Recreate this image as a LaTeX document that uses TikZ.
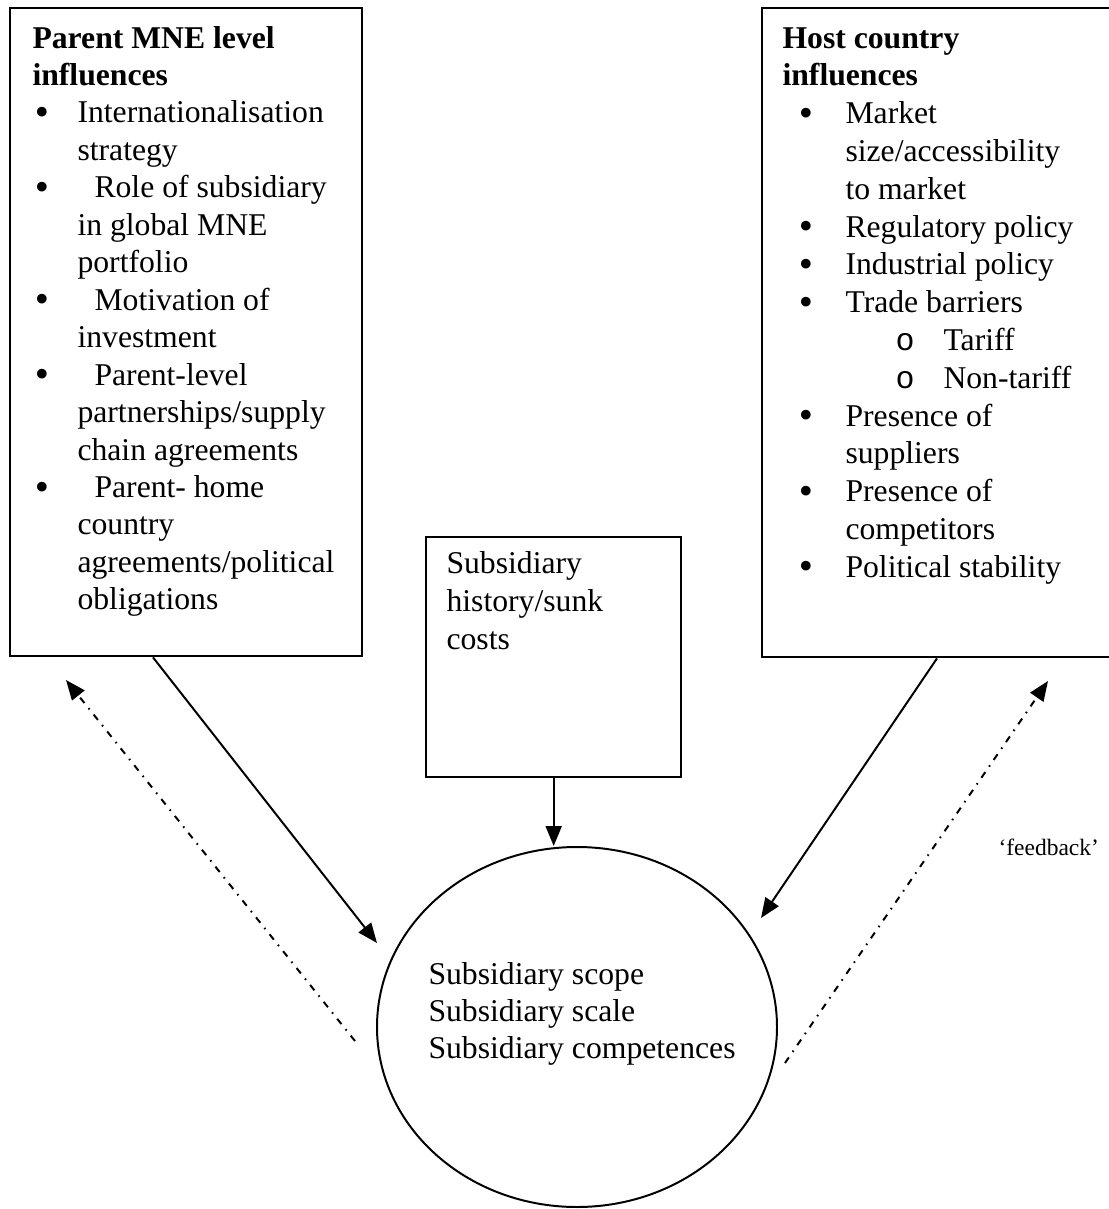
\documentclass[tikz,border=0pt]{standalone}
\usepackage{fontspec}
\setmainfont{Liberation Serif}
\newfontfamily\monof{Liberation Mono}
\newfontfamily\bulfont{DejaVu Sans}
\usetikzlibrary{arrows.meta,shapes.geometric,calc}
\newlength\pxu
\setlength\pxu{0.3788pt}
\newcommand\mylines[2][14.19pt]{\vtop{\baselineskip=#1\relax\lineskiplimit=-\maxdimen\halign{##\hfil\cr#2\crcr}}}
\newcommand\bigbul{\raisebox{-0.6pt}{\bulfont\fontsize{12.6}{13}\selectfont •}}
\newcommand\bul[1]{\makebox[#1\pxu][l]{\bigbul}}
\newcommand\ind[1]{\hspace*{#1\pxu}}
\begin{document}
\begin{tikzpicture}[x=0.3788pt, y=-0.3788pt,
  box/.style={draw, line width=0.9pt, rectangle, inner sep=0pt, anchor=north west},
  oval/.style={draw, line width=0.75pt, ellipse, inner sep=0pt},
  txt/.style={inner sep=0pt, anchor=base west, font=\fontsize{12}{14.17}\selectfont},
  arr/.style={-{Triangle[length=7.5pt,width=6pt]}, line width=0.75pt},
  fb/.style={arr, dash pattern=on 2.6pt off 2.5pt on 0.6pt off 2.5pt}]
\useasboundingbox (0,0) rectangle (1109,1209);

% boxes
\node[box, minimum width={352*0.3788pt}, minimum height={648*0.3788pt}] (L) at (9,7) {};
\node[box, minimum width={360*0.3788pt}, minimum height={649*0.3788pt}] (R) at (761,7) {};
\node[box, minimum width={255*0.3788pt}, minimum height={240*0.3788pt}] (M) at (425,536) {};
\node[oval, minimum width={400*0.3788pt}, minimum height={360*0.3788pt}] (E) at (577,1027) {};

% texts
\node[txt] (Lt) at (32,48) {\mylines{%
\textbf{Parent MNE level}\cr
\textbf{influences}\cr
\bul{45}Internationalisation\cr
\ind{45}strategy\cr
\bul{62}Role of subsidiary\cr
\ind{45}in global MNE\cr
\ind{45}portfolio\cr
\bul{62}Motivation of\cr
\ind{45}investment\cr
\bul{62}Parent-level\cr
\ind{45}partnerships/supply\cr
\ind{45}chain agreements\cr
\bul{62}Parent- home\cr
\ind{45}country\cr
\ind{45}agreements/political\cr
\ind{45}obligations}};

\node[txt] (Rt) at (782,48) {\mylines[14.32pt]{%
\textbf{Host country}\cr
\textbf{influences}\cr
\ind{14}\bul{49}Market\cr
\ind{63}size/accessibility\cr
\ind{63}to market\cr
\ind{14}\bul{49}Regulatory policy\cr
\ind{14}\bul{49}Industrial policy\cr
\ind{14}\bul{49}Trade barriers\cr
\ind{113}\makebox[48\pxu][l]{\monof o}Tariff\cr
\ind{113}\makebox[48\pxu][l]{\monof o}Non-tariff\cr
\ind{14}\bul{49}Presence of\cr
\ind{63}suppliers\cr
\ind{14}\bul{49}Presence of\cr
\ind{63}competitors\cr
\ind{14}\bul{49}Political stability}};

\node[txt] (Mt) at (446,573) {\mylines[14.4pt]{Subsidiary\cr history/sunk\cr costs}};

\node[txt] (Et) at (428,984) {\mylines[14.1pt]{Subsidiary scope\cr Subsidiary scale\cr Subsidiary competences}};

\node[inner sep=0pt, anchor=base west, font=\fontsize{8.9}{10}\selectfont] (fbl) at (998,855) {‘feedback’};

% connector ends
\coordinate (Ls) at ($(L.south west)+(144,0)$);
\coordinate (Rs) at ($(R.south west)+(176,0)$);
\coordinate (tL) at (377,943);
\coordinate (tR) at (761,918);
\coordinate (fL0) at (355,1041);
\coordinate (fL1) at (66,680);
\coordinate (fR0) at (785,1063);
\coordinate (fR1) at (1048,681);

% connectors
\draw[arr] (Ls) -- (tL);
\draw[arr] (M.south) -- (M.south |- E.north);
\draw[arr] (Rs) -- (tR);
\draw[fb] (fL0) -- (fL1);
\draw[fb] (fR0) -- (fR1);
\end{tikzpicture}
\end{document}
